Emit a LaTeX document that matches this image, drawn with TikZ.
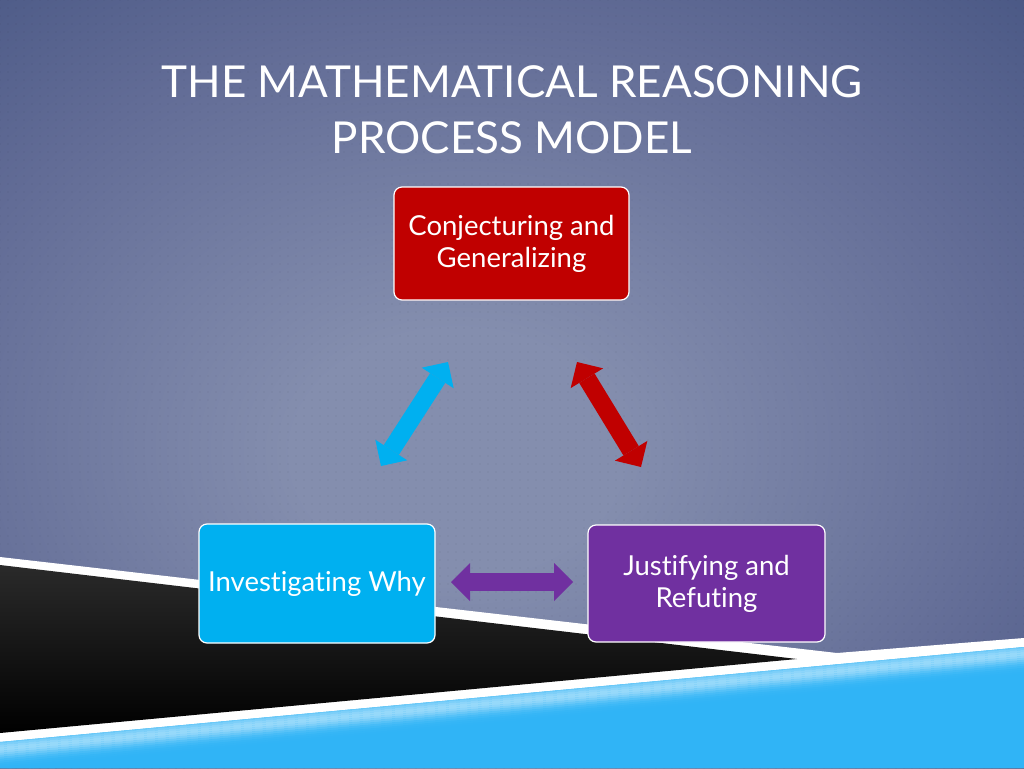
\documentclass[tikz,border=0pt]{standalone}
\usepackage{fontspec}
\setmainfont{Lato}[Ligatures=NoCommon]
\usetikzlibrary{arrows.meta,patterns}
\definecolor{bgin}{RGB}{132,142,174}
\definecolor{bgmid}{RGB}{98,108,150}
\definecolor{bgedge}{RGB}{64,80,126}
\definecolor{bgout}{RGB}{46,62,108}
\definecolor{cred}{RGB}{192,0,0}
\definecolor{cblue}{RGB}{0,176,240}
\definecolor{cpurple}{RGB}{112,48,160}
\definecolor{bblue}{RGB}{48,180,246}
\definecolor{bhl}{RGB}{170,224,251}
\definecolor{blk1}{RGB}{42,42,42}
\pgfdeclareradialshading{bgshade}{\pgfpoint{-3bp}{-5bp}}{color(0bp)=(bgin); color(8bp)=(bgin); color(27bp)=(bgmid); color(44bp)=(bgedge); color(60bp)=(bgout); color(80bp)=(bgout)}
\pgfdeclarepatternformonly{griddots}{\pgfqpoint{-1pt}{-1pt}}{\pgfqpoint{8pt}{8pt}}{\pgfqpoint{8pt}{8pt}}{%
  \pgfpathcircle{\pgfqpoint{0pt}{0pt}}{0.9pt}\pgfusepath{fill}}
\tikzset{
  box/.style={draw=white, line width=1.2pt, rounded corners=8pt, text=white,
    align=center, font=\fontsize{27.5}{32}\selectfont, inner sep=0pt},
  ttl/.style={text=white, font=\fontsize{44}{52}\selectfont, inner sep=0pt, anchor=base},
  barrow/.style={line width=18pt,
    {Triangle[width=38pt,length=19pt,line width=0pt]}-{Triangle[width=38pt,length=19pt,line width=0pt]}}
}
\begin{document}
\begin{tikzpicture}[x=1pt,y=-1pt]
\useasboundingbox (0,0) rectangle (1024,768);
% background
\shade[shading=bgshade] (0,0) rectangle (1024,768);
\fill[pattern=griddots, pattern color=black, opacity=0.05] (0,0) rectangle (1024,768);
% bottom decoration
\fill[white] (0,557) -- (837,653) -- (1024,638) -- (1024,768) -- (0,768) -- cycle;
\shade[top color=blk1, bottom color=black] (0,565) -- (797,659) -- (0,733) -- cycle;
\fill[bblue] (0,742) -- (1024,647) -- (1024,768) -- (0,768) -- cycle;
\begin{scope}
  \clip (0,742) -- (1024,647) -- (1024,768) -- (0,768) -- cycle;
  \foreach \d in {0,2,...,36}{
    \pgfmathsetmacro{\p}{85*exp(-((\d-7)/9)^2)}
    \draw[line width=2.2pt, color=bhl!\p!bblue] (0,742+\d) -- (1024,647+\d);
  }
\end{scope}
% title
\node[ttl] (t1) at (512,97) {THE MATHEMATICAL REASONING};
\node[ttl] (t2) at (512,153) {PROCESS MODEL};
% boxes
\node[box, fill=cred, minimum width=235pt, minimum height=113pt] (conj) at (511.5,243.5) {Conjecturing and\\Generalizing};
\node[box, fill=cblue, minimum width=236pt, minimum height=119pt] (inv) at (317,583.5) {Investigating Why};
\node[box, fill=cpurple, minimum width=237pt, minimum height=117pt] (just) at (706.5,583.5) {Justifying and\\Refuting};
% arrows
\coordinate (b1) at (381,466);
\coordinate (b2) at (448,362);
\coordinate (r1) at (577,362);
\coordinate (r2) at (641,467);
\coordinate (p1) at (451,582);
\coordinate (p2) at (573,582);
\draw[barrow, cblue] (b1) -- (b2);
\draw[barrow, cred] (r1) -- (r2);
\draw[barrow, cpurple] (p1) -- (p2);
\end{tikzpicture}
\end{document}
